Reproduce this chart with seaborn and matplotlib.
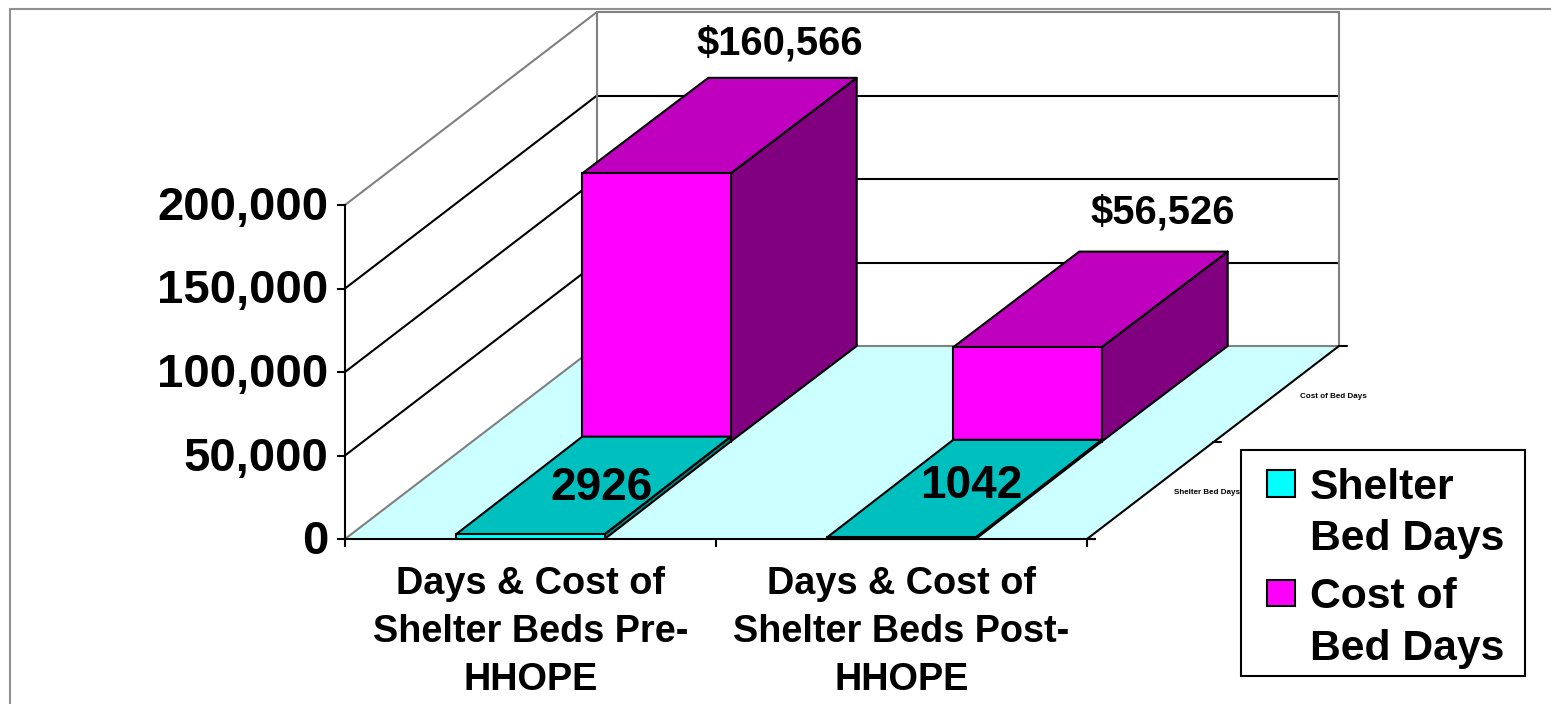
#plot.py
"""
     Excel style 3D bars: shelter bed days and their cost, pre and post HHOPE
"""
import matplotlib
matplotlib.use('Agg')
from matplotlib.lines import Line2D
from matplotlib.patches import Patch,Rectangle
from matplotlib.transforms import ScaledTranslation
import matplotlib.pyplot as plt
import seaborn as sns

categories=['Days & Cost of\nShelter Beds Pre-\nHHOPE','Days & Cost of\nShelter Beds Post-\nHHOPE']
series_names=['Shelter\nBed Days','Cost of\nBed Days']
shelter_days=[2926,1042]
bed_cost=[160566,56526]
cost_labels=['$160,566','$56,526']
y_ticks=[0,50000,100000,150000,200000]
depth_labels=['Shelter Bed Days','Cost of Bed Days']

W,H=1551,704
LEFT,RIGHT,BOTTOM,TOP=345,1087,539,205  #front plane of the chart in pixels
YMAX=200000
DEPTH_X=252/((RIGHT-LEFT)/2)            #how far the back wall is shifted, in data units
DEPTH_Y=193/(BOTTOM-TOP)*YMAX
ROW_SPLIT=0.505
BAR_WIDTH=0.4
LW=1.5

def proj(x,value,depth):
     """oblique projection of a point on to the front plane"""
     dx=0.5 if depth==ROW_SPLIT else depth  #rows split evenly sideways, a bit off upwards
     return x+dx*DEPTH_X,value+depth*DEPTH_Y

def face(ax,points,color,zorder):
     xs,ys=zip(*[proj(*p) for p in points])
     ax.fill(xs,ys,facecolor=color,edgecolor='black',linewidth=LW,zorder=zorder,clip_on=False,joinstyle='round')

def wire(ax,start,end,color='black',lw=LW,zorder=1.5):
     xs,ys=zip(proj(*start),proj(*end))
     ax.plot(xs,ys,color=color,lw=lw,zorder=zorder,clip_on=False,solid_capstyle='round')

def box_sides(ax,x,value,d0,d1,top,side,zorder):
     l,r=x-BAR_WIDTH/2,x+BAR_WIDTH/2
     face(ax,[(r,0,d0),(r,0,d1),(r,value,d1),(r,value,d0)],side,zorder)
     face(ax,[(l,value,d0),(r,value,d0),(r,value,d1),(l,value,d1)],top,zorder)

if __name__ == '__main__':
     sns.set_style('white',{'text.color':'black','xtick.color':'black','ytick.color':'black'})
     plt.rcParams['font.family']=['Liberation Sans','DejaVu Sans']
     plt.rcParams['font.weight']='bold'

     figure=plt.figure(figsize=(W/100,H/100),dpi=100)
     axes=figure.add_axes([LEFT/W,1-BOTTOM/H,(RIGHT-LEFT)/W,(BOTTOM-TOP)/H])
     axes.patch.set_alpha(0)

     #cost row first, it sits behind the shelter row
     sns.barplot(x=categories,y=bed_cost,color='#FF00FF',saturation=1,width=BAR_WIDTH,
                 edgecolor='black',linewidth=LW,zorder=3,ax=axes)
     shift,lift=proj(0,0,ROW_SPLIT)
     for bar in axes.containers[0]:
          bar.set_x(bar.get_x()+shift)
          bar.set_y(lift)
          bar.set_clip_on(False)
     sns.barplot(x=categories,y=shelter_days,color='#00FFFF',saturation=1,width=BAR_WIDTH,
                 edgecolor='black',linewidth=LW,zorder=5,ax=axes)
     for bar in axes.containers[1]:
          bar.set_clip_on(False)

     for i in range(len(categories)):
          box_sides(axes,i,bed_cost[i],ROW_SPLIT,1,'#BF00BF','#800080',2)
          box_sides(axes,i,shelter_days[i],0,ROW_SPLIT,'#00BFBF','#008080',4)

     #floor and walls
     xl,xr=-0.5,1.5
     xs,ys=zip(*[proj(x,0,d) for x,d in [(xl,0),(xr,0),(xr,1),(xl,1)]])
     axes.fill(xs,ys,facecolor='#CCFFFF',edgecolor='none',zorder=1,clip_on=False)
     for v in y_ticks:
          c='#808080' if v in (0,YMAX) else 'black'
          wire(axes,(xl,v,0),(xl,v,1),c)
          wire(axes,(xl,v,1),(xr,v,1),c)
     wire(axes,(xl,0,1),(xl,YMAX,1),'#808080')
     wire(axes,(xr,0,1),(xr,YMAX,1),'#808080')
     wire(axes,(xr,0,0),(xr,0,1),'black')

     #depth axis stubs and its tiny labels
     stub=8/((RIGHT-LEFT)/2)
     for d in [0,ROW_SPLIT,1]:
          x,y=proj(xr,0,d)
          axes.plot([x,x+stub],[y,y],color='black',lw=LW,clip_on=False,zorder=1.5)
     for d,label in zip([0.25,0.75],depth_labels):
          axes.annotate(label,xy=proj(xr,0,d),xytext=(41,-1.5),textcoords='offset points',
                        ha='center',va='center',fontsize=5.8,annotation_clip=False,zorder=1)

     axes.set_xlim(xl,xr)
     axes.set_ylim(0,YMAX)
     axes.set_yticks(y_ticks,[f'{v:,}' for v in y_ticks])
     axes.set_xticks([xl,0.5,xr],['','',''])
     axes.set_xticks([0,1],categories,minor=True)
     axes.tick_params(axis='y',left=True,length=5.8,width=LW,pad=6,labelsize=34,color='black')
     axes.tick_params(axis='x',which='major',bottom=True,length=5.8,width=LW,color='black')
     axes.tick_params(axis='x',which='minor',bottom=False,labelsize=27.3,pad=17.5)
     for t in axes.get_xticklabels(minor=True):
          t.set_linespacing(1.42)
     for t in axes.get_yticklabels():
          t.set_transform(t.get_transform()+ScaledTranslation(0,2/100,figure.dpi_scale_trans))
     for name,spine in axes.spines.items():
          spine.set_visible(name in ('left','bottom'))
          spine.set_color('black')
          spine.set_linewidth(LW)
     axes.plot([xr,xr+stub],[0,0],color='black',lw=LW,clip_on=False)

     #value labels
     cost_offsets=[(-2,25),(7,28)]
     for i,label in enumerate(cost_labels):
          axes.annotate(label,xy=proj(i,bed_cost[i],1),xytext=cost_offsets[i],textcoords='offset points',
                        ha='center',va='center',fontsize=28.7,annotation_clip=False,zorder=6)
     shelter_offsets=[(6,-1.5),(5,2.5)]
     for i,v in enumerate(shelter_days):
          axes.annotate(str(v),xy=proj(i,v,0.25),xytext=shelter_offsets[i],textcoords='offset points',
                        ha='center',va='center',fontsize=33,annotation_clip=False,zorder=6)

     #legend, the frame is drawn apart since its padding is uneven
     frame=Rectangle((1241/W,1-676/H),284/W,226/H,transform=figure.transFigure,facecolor='white',
                     edgecolor='black',linewidth=LW,zorder=2)
     figure.add_artist(frame)
     handles=[Patch(facecolor='#00FFFF',edgecolor='black',linewidth=LW),
              Patch(facecolor='#FF00FF',edgecolor='black',linewidth=LW)]
     legend=figure.legend(handles,series_names,loc='upper left',bbox_to_anchor=(1267/W,1-468/H),
                          borderaxespad=0,fontsize=30.7,frameon=False,handlelength=0.657,
                          handleheight=0.58,handletextpad=0.35,labelspacing=0.42,borderpad=0)
     legend.set_zorder(5)
     for text in legend.get_texts():
          text.set_linespacing(1.37)
     for handle in legend.get_patches():
          handle.set_y(handle.get_y()+22)

     #frame of the slide around the chart
     for x0,y0,x1,y1 in [(10,9,W,9),(10,9,10,H)]:
          figure.add_artist(Line2D([x0/W,x1/W],[1-y0/H,1-y1/H],color='#909090',lw=LW))

     figure.savefig('out.png',dpi=100)
